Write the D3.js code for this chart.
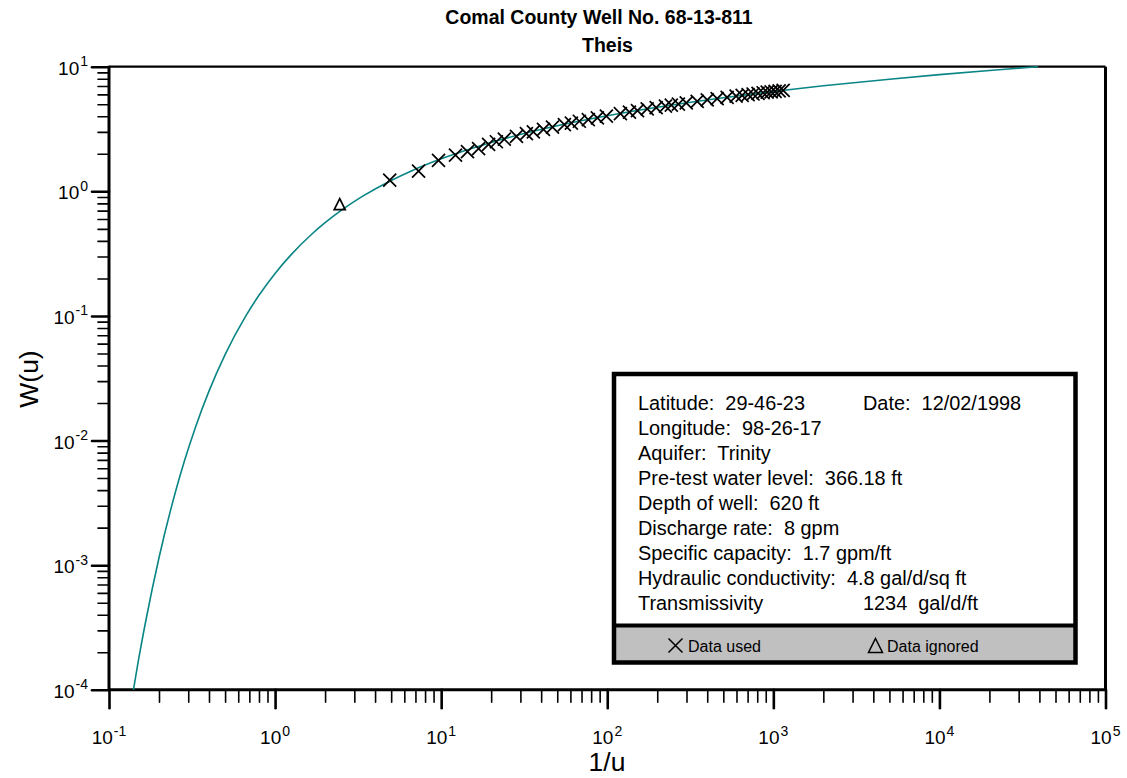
<!DOCTYPE html>
<html>
<head>
<meta charset="utf-8">
<script src="https://cdn.jsdelivr.net/npm/d3@7"></script>
<style>
  html, body { margin: 0; padding: 0; background: #fff; }
  svg { display: block; font-family: "Liberation Sans", Arial, sans-serif; }
  text { white-space: pre; }
</style>
</head>
<body>
<svg id="chart" width="1127" height="778"></svg>
<script>
// ---- Data ----
const titleLines = ["Comal County Well No. 68-13-811", "Theis"];
const xLabel = "1/u";
const yLabel = "W(u)";

// Theis type curve: 1/u and W(u)
const curveInvU = [0.1403, 0.15, 0.1667, 0.2, 0.25, 0.2857, 0.3333, 0.4, 0.5, 0.6667, 0.8, 1, 1.25, 1.667, 2, 2.5, 3.333, 5, 6.667, 10, 20, 50, 100, 200, 500, 1000, 2000, 5000, 10000, 20000, 39200];
const curveW = [1.0e-4, 1.69e-4, 3.60e-4, 1.148e-3, 3.779e-3, 6.97e-3, 1.305e-2, 2.491e-2, 4.890e-2, 0.1000, 0.1464, 0.2194, 0.3106, 0.4544, 0.5598, 0.7024, 0.9057, 1.2227, 1.4645, 1.8229, 2.4679, 3.3547, 4.0379, 4.7261, 5.6394, 6.3315, 7.0242, 7.9402, 8.6332, 9.3263, 10.0];

// Data used (X markers)
const usedInvU = [4.90, 7.31, 9.64, 12.2, 14.4, 16.8, 19.3, 21.5, 24.0, 28.4, 32.6, 35.9, 41.3, 46.8, 55.2, 60.8, 67.9, 76.9, 87.2, 98.8, 120, 136, 152, 174, 197, 224, 243, 268, 299, 348, 400, 459, 527, 597, 649, 705, 755, 809, 868, 918, 970, 1025, 1084, 1146];
const usedW = [1.23, 1.45, 1.77, 1.95, 2.08, 2.20, 2.38, 2.50, 2.62, 2.76, 2.90, 3.00, 3.14, 3.27, 3.43, 3.53, 3.65, 3.76, 3.88, 4.01, 4.20, 4.32, 4.44, 4.58, 4.70, 4.83, 4.91, 5.01, 5.12, 5.27, 5.41, 5.54, 5.68, 5.81, 5.89, 5.97, 6.04, 6.11, 6.18, 6.24, 6.29, 6.35, 6.40, 6.45];

// Data ignored (triangle markers)
const ignoredInvU = [2.45];
const ignoredW = [0.79];

// Axis ticks
const xMajorTicks = [1e-1, 1e0, 1e1, 1e2, 1e3, 1e4, 1e5];
const xMajorExp = ["-1", "0", "1", "2", "3", "4", "5"];
const yMajorTicks = [1e-4, 1e-3, 1e-2, 1e-1, 1e0, 1e1];
const yMajorExp = ["-4", "-3", "-2", "-1", "0", "1"];

// Info box text
const infoLeft = ["Latitude:  29-46-23", "Longitude:  98-26-17", "Aquifer:  Trinity", "Pre-test water level:  366.18 ft", "Depth of well:  620 ft", "Discharge rate:  8 gpm", "Specific capacity:  1.7 gpm/ft", "Hydraulic conductivity:  4.8 gal/d/sq ft", "Transmissivity"];
const infoRight = ["Date:  12/02/1998", "", "", "", "", "", "", "", "1234  gal/d/ft"];
const legendLabels = ["Data used", "Data ignored"];

// ---- Layout ----
const L = 109, R = 1105.5, T = 66.7, B = 689.8;
const svg = d3.select("#chart");

const x = d3.scaleLog().domain([1e-1, 1e5]).range([L, R]);
const y = d3.scaleLog().domain([1e-4, 1e1]).range([B, T]);

function minorTicks(lo, hi) {
  const out = [];
  for (let e = lo; e < hi; e++) {
    for (let k = 2; k <= 9; k++) out.push(k * Math.pow(10, e));
  }
  return out;
}
const xMinor = minorTicks(-1, 5);
const yMinor = minorTicks(-4, 1);

// Title
svg.append("text").attr("x", 599).attr("y", 23.5).attr("text-anchor", "middle")
  .attr("font-size", 19.5).attr("font-weight", "bold").text(titleLines[0]);
svg.append("text").attr("x", 607.5).attr("y", 51.5).attr("text-anchor", "middle")
  .attr("font-size", 19.5).attr("font-weight", "bold").text(titleLines[1]);

// Frame (top and right)
svg.append("line").attr("x1", L).attr("x2", R).attr("y1", T).attr("y2", T)
  .attr("stroke", "#000").attr("stroke-width", 2.2);
svg.append("line").attr("x1", R).attr("x2", R).attr("y1", T).attr("y2", B)
  .attr("stroke", "#000").attr("stroke-width", 3);

// Axes
function styleAxis(g, w) {
  g.select(".domain").remove();
  g.selectAll(".tick line").attr("stroke", "#000").attr("stroke-width", w).attr("stroke-linecap", "round");
  g.selectAll(".tick text").remove();
}
const gxMinor = svg.append("g").attr("transform", `translate(0,${B})`)
  .call(d3.axisBottom(x).tickValues(xMinor).tickSize(12.5).tickSizeOuter(0).tickFormat(""));
styleAxis(gxMinor, 1.6);
const gxMajor = svg.append("g").attr("transform", `translate(0,${B})`)
  .call(d3.axisBottom(x).tickValues(xMajorTicks).tickSize(18.5).tickSizeOuter(0).tickFormat(""));
styleAxis(gxMajor, 2.6);
const gyMinor = svg.append("g").attr("transform", `translate(${L},0)`)
  .call(d3.axisLeft(y).tickValues(yMinor).tickSize(11).tickSizeOuter(0).tickFormat(""));
styleAxis(gyMinor, 1.6);
const gyMajor = svg.append("g").attr("transform", `translate(${L},0)`)
  .call(d3.axisLeft(y).tickValues(yMajorTicks).tickSize(17).tickSizeOuter(0).tickFormat(""));
styleAxis(gyMajor, 2.6);

// Axis lines
svg.append("line").attr("x1", L).attr("x2", L).attr("y1", T - 1).attr("y2", B)
  .attr("stroke", "#000").attr("stroke-width", 3);
svg.append("line").attr("x1", L).attr("x2", R).attr("y1", B).attr("y2", B)
  .attr("stroke", "#000").attr("stroke-width", 3);

// Tick labels with superscripts
function powLabel(parent, px, py, exp, anchor) {
  const t = parent.append("text").attr("x", px).attr("y", py).attr("text-anchor", anchor).attr("fill", "#000");
  t.append("tspan").attr("font-size", 19).text("10");
  t.append("tspan").attr("font-size", 14).attr("dy", -8.5).attr("dx", 1).text(exp);
  return t;
}
xMajorTicks.forEach((v, i) => powLabel(svg, x(v), B + 54.5, xMajorExp[i], "middle"));
yMajorTicks.forEach((v, i) => powLabel(svg, L - 21, y(v) + 8, yMajorExp[i], "end"));

// Axis titles
svg.append("text").attr("x", 607).attr("y", 771).attr("text-anchor", "middle")
  .attr("font-size", 26.5).text(xLabel);
svg.append("text").attr("transform", `translate(38,379) rotate(-90)`).attr("text-anchor", "middle")
  .attr("font-size", 26.5).text(yLabel);

// Type curve
const curveData = curveInvU.map((v, i) => [v, curveW[i]]);
svg.append("path").datum(curveData)
  .attr("d", d3.line().x(d => x(d[0])).y(d => y(d[1])).curve(d3.curveMonotoneX))
  .attr("fill", "none").attr("stroke", "#0a8585").attr("stroke-width", 1.6);

// Markers
const xs = 6.5;
function xPath(cx, cy, s) {
  return `M${cx - s},${cy - s}L${cx + s},${cy + s}M${cx - s},${cy + s}L${cx + s},${cy - s}`;
}
function triPath(cx, cy, s) {
  const h = s * 1.0;
  return `M${cx},${cy - h}L${cx + s},${cy + h}L${cx - s},${cy + h}Z`;
}
svg.append("g").selectAll("path").data(usedInvU.map((v, i) => [v, usedW[i]])).join("path")
  .attr("d", d => xPath(x(d[0]), y(d[1]), xs))
  .attr("stroke", "#000").attr("stroke-width", 1.7).attr("fill", "none");
svg.append("g").selectAll("path").data(ignoredInvU.map((v, i) => [v, ignoredW[i]])).join("path")
  .attr("d", d => triPath(x(d[0]), y(d[1]), 5.5))
  .attr("stroke", "#000").attr("stroke-width", 1.7).attr("fill", "none");

// Info box
const bx = 614, by = 374, bw = 461.5, bh = 288.5;
const box = svg.append("g");
box.append("rect").attr("x", bx).attr("y", 626).attr("width", bw).attr("height", by + bh - 626)
  .attr("fill", "#c0c0c0");
box.append("rect").attr("x", bx).attr("y", by).attr("width", bw).attr("height", 626 - by)
  .attr("fill", "#fff");
box.append("line").attr("x1", bx).attr("x2", bx + bw).attr("y1", 625.5).attr("y2", 625.5)
  .attr("stroke", "#000").attr("stroke-width", 4);
box.append("rect").attr("x", bx).attr("y", by).attr("width", bw).attr("height", bh)
  .attr("fill", "none").attr("stroke", "#000").attr("stroke-width", 4.5);

infoLeft.forEach((s, i) => {
  box.append("text").attr("x", 638).attr("y", 410 + i * 25).attr("font-size", 19.9).text(s);
});
infoRight.forEach((s, i) => {
  if (s) box.append("text").attr("x", 863).attr("y", 410 + i * 25).attr("font-size", 19.9).text(s);
});

// Legend entries
box.append("path").attr("d", xPath(675.5, 645.5, 7)).attr("stroke", "#000").attr("stroke-width", 1.5).attr("fill", "none");
box.append("text").attr("x", 688).attr("y", 651.5).attr("font-size", 16).text(legendLabels[0]);
box.append("path").attr("d", triPath(875.5, 645.5, 7)).attr("stroke", "#000").attr("stroke-width", 1.5).attr("fill", "none");
box.append("text").attr("x", 887).attr("y", 651.5).attr("font-size", 16).text(legendLabels[1]);
</script>
</body>
</html>
